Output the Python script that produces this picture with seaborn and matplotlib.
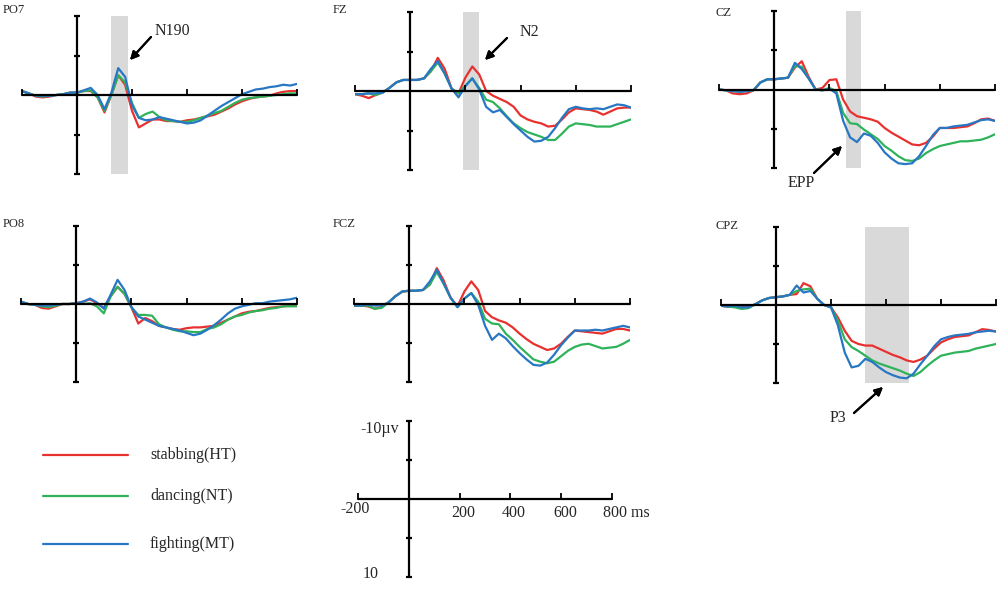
import numpy as np
import pandas as pd
import seaborn as sns
import matplotlib.pyplot as plt
from matplotlib.lines import Line2D

sns.set_style('white')
plt.rcParams['font.family'] = ['Liberation Serif', 'DejaVu Serif']

# time points (ms) and amplitudes (uV, negative plotted up)
time_ms = [-200, -175, -150, -125, -100, -75, -50, -25, 0, 25, 50, 75, 100, 125,
           150, 175, 200, 225, 250, 275, 300, 325, 350, 375, 400, 425, 450, 475,
           500, 525, 550, 575, 600, 625, 650, 675, 700, 725, 750, 775, 800]

conditions = ['stabbing(HT)', 'dancing(NT)', 'fighting(MT)']
colors = ['#e8312f', '#2fb35a', '#2777c4']

po7_ht = [-0.5, -0.2, 0.2, 0.3, 0.2, 0.0, -0.1, -0.3, -0.3, -0.5, -0.5, 0.3, 2.2, 0.0, -2.5, -1.3, 2.0, 4.1, 3.6, 3.1, 3.1, 3.3, 3.3, 3.4, 3.2, 3.1, 2.9, 2.7, 2.5, 2.1, 1.7, 1.2, 0.8, 0.5, 0.3, 0.2, 0.1, -0.2, -0.4, -0.5, -0.5]
po7_nt = [-0.5, -0.2, 0.1, 0.2, 0.1, 0.0, -0.1, -0.3, -0.3, -0.5, -0.6, 0.3, 2.0, 0.0, -2.5, -1.6, 1.0, 2.9, 2.4, 2.1, 2.8, 3.2, 3.3, 3.4, 3.4, 3.2, 2.9, 2.6, 2.3, 2.0, 1.5, 1.0, 0.6, 0.4, 0.3, 0.2, 0.1, 0.0, -0.1, -0.2, -0.2]
po7_mt = [-0.5, -0.2, 0.1, 0.1, 0.1, 0.0, -0.1, -0.3, -0.3, -0.6, -0.9, 0.0, 1.8, -0.3, -3.4, -2.3, 1.3, 2.9, 3.2, 3.1, 2.8, 3.0, 3.2, 3.4, 3.6, 3.5, 3.2, 2.6, 2.0, 1.4, 0.9, 0.4, -0.1, -0.4, -0.7, -0.8, -1.0, -1.1, -1.3, -1.2, -1.4]

fz_ht = [0.4, 0.6, 0.9, 0.5, 0.2, -0.4, -1.1, -1.4, -1.4, -1.4, -1.6, -2.5, -4.2, -2.8, -0.3, 0.3, -1.7, -3.1, -2.1, 0.0, 0.6, 1.0, 1.4, 2.0, 3.1, 3.6, 3.9, 4.1, 4.5, 4.4, 3.6, 2.7, 2.2, 2.3, 2.4, 2.6, 3.0, 2.6, 2.2, 2.1, 2.1]
fz_nt = [0.4, 0.4, 0.3, 0.5, 0.2, -0.4, -1.1, -1.4, -1.4, -1.4, -1.6, -2.5, -3.6, -2.2, -0.3, 0.3, -0.7, -1.6, -0.4, 1.1, 1.4, 2.2, 3.2, 4.1, 4.7, 5.2, 5.5, 5.8, 6.2, 6.2, 5.4, 4.5, 4.1, 4.2, 4.3, 4.5, 4.5, 4.5, 4.2, 3.9, 3.6]
fz_mt = [0.4, 0.4, 0.3, 0.3, 0.2, -0.4, -1.1, -1.4, -1.4, -1.4, -1.6, -2.8, -3.8, -2.2, -0.3, 0.8, -0.6, -1.6, -0.2, 2.0, 2.7, 2.4, 3.3, 4.2, 5.0, 5.8, 6.4, 6.3, 5.8, 4.7, 3.4, 2.3, 2.0, 2.2, 2.3, 2.2, 2.3, 2.0, 1.7, 1.8, 2.1]

cz_ht = [0.0, 0.1, 0.5, 0.6, 0.5, 0.1, -0.9, -1.3, -1.3, -1.4, -1.5, -2.8, -3.6, -1.6, 0.0, -0.2, -1.2, -1.3, 1.3, 2.8, 3.4, 3.6, 3.8, 4.1, 4.9, 5.5, 6.0, 6.5, 7.0, 7.1, 6.8, 6.0, 4.9, 4.9, 4.9, 4.8, 4.7, 4.3, 3.8, 3.7, 4.0]
cz_nt = [0.0, 0.1, 0.2, 0.3, 0.2, 0.1, -0.9, -1.3, -1.3, -1.4, -1.5, -3.0, -2.9, -1.4, 0.0, 0.1, -0.2, 0.2, 3.0, 4.3, 4.4, 5.1, 5.7, 6.3, 7.2, 7.8, 8.5, 9.0, 9.1, 8.8, 8.1, 7.6, 7.2, 7.0, 6.8, 6.6, 6.6, 6.5, 6.4, 6.1, 5.7]
cz_mt = [0.0, 0.1, 0.2, 0.3, 0.2, 0.1, -0.9, -1.3, -1.3, -1.4, -1.5, -3.4, -2.6, -1.4, 0.0, 0.1, -0.1, 0.5, 4.0, 6.1, 6.7, 5.6, 5.9, 6.8, 8.0, 8.8, 9.4, 9.5, 9.4, 8.5, 7.2, 5.8, 4.9, 4.9, 4.7, 4.6, 4.5, 4.2, 3.9, 3.8, 4.0]

po8_ht = [-0.3, 0.0, 0.1, 0.5, 0.6, 0.3, 0.0, 0.0, -0.1, -0.3, -0.6, -0.1, 0.5, -1.0, -2.2, -1.3, 0.4, 2.5, 1.8, 2.2, 2.8, 3.0, 3.2, 3.3, 3.1, 3.0, 3.0, 2.9, 2.8, 2.4, 2.0, 1.6, 1.2, 1.0, 0.9, 0.7, 0.5, 0.4, 0.3, 0.2, 0.2]
po8_nt = [-0.3, 0.0, 0.1, 0.3, 0.4, 0.2, 0.0, 0.0, -0.1, 0.0, -0.1, 0.3, 1.2, -1.0, -2.2, -1.3, 0.4, 1.4, 1.4, 1.5, 2.6, 3.0, 3.3, 3.5, 3.5, 3.6, 3.6, 3.2, 3.0, 2.6, 2.0, 1.6, 1.4, 1.1, 0.9, 0.8, 0.6, 0.5, 0.3, 0.3, 0.3]
po8_mt = [-0.3, 0.0, 0.1, 0.2, 0.2, 0.1, 0.0, 0.0, -0.1, -0.3, -0.7, -0.2, 0.6, -1.2, -3.1, -1.8, 0.4, 1.6, 2.0, 2.4, 2.8, 3.0, 3.2, 3.4, 3.7, 4.0, 3.8, 3.3, 2.7, 2.0, 1.2, 0.6, 0.3, 0.1, -0.1, -0.1, -0.3, -0.4, -0.5, -0.6, -0.8]

fcz_ht = [0.2, 0.2, 0.3, 0.6, 0.4, -0.2, -1.0, -1.6, -1.7, -1.7, -1.8, -2.5, -4.6, -3.0, -0.8, 0.3, -1.6, -2.9, -1.8, 0.9, 1.7, 2.1, 2.4, 3.0, 3.8, 4.5, 5.1, 5.5, 5.9, 5.7, 5.1, 4.2, 3.4, 3.5, 3.6, 3.7, 3.8, 3.5, 3.2, 3.2, 3.4]
fcz_nt = [0.2, 0.2, 0.2, 0.6, 0.5, -0.2, -1.0, -1.6, -1.7, -1.7, -1.8, -2.5, -4.1, -2.6, -0.8, 0.4, -0.7, -1.4, -0.3, 1.9, 2.5, 2.6, 3.8, 4.6, 5.5, 6.3, 7.1, 7.4, 7.6, 7.4, 6.7, 6.0, 5.5, 5.2, 5.1, 5.4, 5.7, 5.6, 5.5, 5.1, 4.6]
fcz_mt = [0.2, 0.2, 0.1, 0.2, 0.2, -0.2, -1.0, -1.6, -1.7, -1.7, -1.8, -2.9, -4.4, -2.6, -0.8, 0.4, -0.7, -1.4, 0.1, 2.8, 4.6, 3.8, 4.4, 5.4, 6.3, 7.1, 7.8, 7.9, 7.5, 6.5, 5.3, 4.3, 3.4, 3.4, 3.4, 3.3, 3.4, 3.2, 3.0, 2.8, 3.0]

cpz_ht = [0.1, 0.2, 0.1, 0.2, 0.2, -0.1, -0.6, -0.9, -1.0, -1.1, -1.3, -1.4, -2.8, -2.4, -0.8, 0.0, 0.3, 1.6, 3.3, 4.6, 5.0, 5.2, 5.2, 5.6, 6.0, 6.4, 6.7, 7.1, 7.3, 7.0, 6.5, 5.6, 4.8, 4.4, 4.1, 4.0, 3.9, 3.5, 3.1, 3.2, 3.4]
cpz_nt = [0.1, 0.2, 0.3, 0.5, 0.4, -0.1, -0.6, -0.9, -1.0, -1.1, -1.3, -1.8, -2.0, -2.1, -0.8, 0.0, 0.3, 2.0, 4.4, 5.4, 5.9, 6.5, 7.1, 7.5, 7.8, 8.1, 8.4, 8.8, 9.1, 8.6, 7.8, 7.1, 6.5, 6.3, 6.1, 6.0, 5.9, 5.6, 5.4, 5.2, 5.0]
cpz_mt = [0.1, 0.2, 0.1, 0.3, 0.3, -0.1, -0.6, -0.9, -1.0, -1.1, -1.3, -2.5, -1.6, -1.8, -0.8, 0.0, 0.3, 2.6, 6.1, 8.0, 7.8, 6.9, 7.3, 8.0, 8.6, 9.0, 9.3, 9.4, 8.8, 7.6, 6.5, 5.3, 4.4, 4.1, 3.9, 3.8, 3.7, 3.5, 3.4, 3.3, 3.4]

channels = {
    'PO7': [po7_ht, po7_nt, po7_mt],
    'FZ': [fz_ht, fz_nt, fz_mt],
    'CZ': [cz_ht, cz_nt, cz_mt],
    'PO8': [po8_ht, po8_nt, po8_mt],
    'FCZ': [fcz_ht, fcz_nt, fcz_mt],
    'CPZ': [cpz_ht, cpz_nt, cpz_mt],
}

# analysis windows (ms)
windows = {'PO7': (125, 185), 'FZ': (190, 250), 'CZ': (260, 315), 'CPZ': (325, 485)}

rows = []
for ch, series in channels.items():
    for cond, vals in zip(conditions, series):
        for t, v in zip(time_ms, vals):
            rows.append((ch, cond, t, v))
df = pd.DataFrame(rows, columns=['channel', 'cond', 'time', 'amp'])

W, H = 1000, 594
fig = plt.figure(figsize=(10, 5.94), dpi=100)


def box(x0, x1, y0, y1):
    return [x0 / W, 1 - y1 / H, (x1 - x0) / W, (y1 - y0) / H]


# pixel boxes for x -200..800, y -10..10
boxes = {
    'PO7': (22, 297, 16, 174),
    'FZ': (355, 631, 12, 170),
    'CZ': (719, 995, 11, 168),
    'PO8': (21, 297, 226, 382),
    'FCZ': (354, 630, 226, 382),
    'CPZ': (721, 996, 227, 383),
}
label_pos = {'PO7': (3, 10), 'FZ': (333, 10), 'CZ': (716, 13),
             'PO8': (3, 224), 'FCZ': (333, 224), 'CPZ': (716, 226)}


def draw_axes(ax):
    ax.set_xlim(-200, 800)
    ax.set_ylim(10, -10)
    ax.axis('off')
    kw = dict(color='black', lw=1.6, clip_on=False, zorder=3)
    ax.plot([-200, 800], [0, 0], **kw)
    ax.plot([0, 0], [-10, 10], **kw)
    ax.plot([-200, 200, 400, 600, 800], [0] * 5, marker=2, ms=4, mew=1.3,
            ls='none', color='black', clip_on=False, zorder=3)
    ax.plot([0] * 4, [-10, -5, 5, 10], marker='_', ms=5, mew=1.6,
            ls='none', color='black', clip_on=False, zorder=3)


for ch in channels:
    ax = fig.add_axes(box(*boxes[ch]))
    draw_axes(ax)
    if ch in windows:
        ax.axvspan(*windows[ch], color='#d9d9d9', lw=0, zorder=0)
    sns.lineplot(data=df[df.channel == ch], x='time', y='amp', hue='cond',
                 hue_order=conditions, palette=colors, legend=False,
                 errorbar=None, lw=1.6, ax=ax, zorder=2)
    ax.set_ylim(10, -10)
    ax.axis('off')
    lx, ly = label_pos[ch]
    fig.text(lx / W, 1 - ly / H, ch, fontsize=9, va='center', ha='left')

# scale axes
sax = fig.add_axes(box(358, 612, 421, 577))
draw_axes(sax)
for t in [200, 400, 600]:
    sax.text(t + 15, 1.8, str(t), fontsize=11.5, ha='center', va='center')
sax.text(-210, 1.3, '-200', fontsize=11.5, ha='center', va='center')
sax.text(766, 1.8, '800 ms', fontsize=11.5, ha='left', va='center')
sax.text(-38, -9.0, '-10µv', fontsize=11.5, ha='right', va='center')
sax.text(-118, 9.6, '10', fontsize=11.5, ha='right', va='center')


def fp(x, y):
    return (x / W, 1 - y / H)


arrows = [((151, 37), (130, 60)), ((507, 38), (485, 60)),
          ((814, 173), (842, 146)), ((854, 413), (883, 387))]
for tail, head in arrows:
    fig.add_artist(plt.annotate('', xy=fp(*head), xytext=fp(*tail),
                                xycoords='figure fraction', textcoords='figure fraction',
                                arrowprops=dict(arrowstyle='-|>', color='black', lw=1.5,
                                                mutation_scale=12, shrinkA=0, shrinkB=0)))

notes = [('N190', 155, 31), ('N2', 520, 32), ('EPP', 788, 183), ('P3', 830, 418)]
for txt, x, y in notes:
    fig.text(*fp(x, y), txt, fontsize=11.5, ha='left', va='center')

# legend
leg_y = [455, 496, 544]
for cond, col, y in zip(conditions, colors, leg_y):
    fig.add_artist(Line2D([43 / W, 128 / W], [1 - y / H] * 2, color=col, lw=1.6))
    fig.text(150 / W, 1 - y / H, cond, fontsize=11.5, ha='left', va='center')

plt.savefig('out.png', dpi=100)
